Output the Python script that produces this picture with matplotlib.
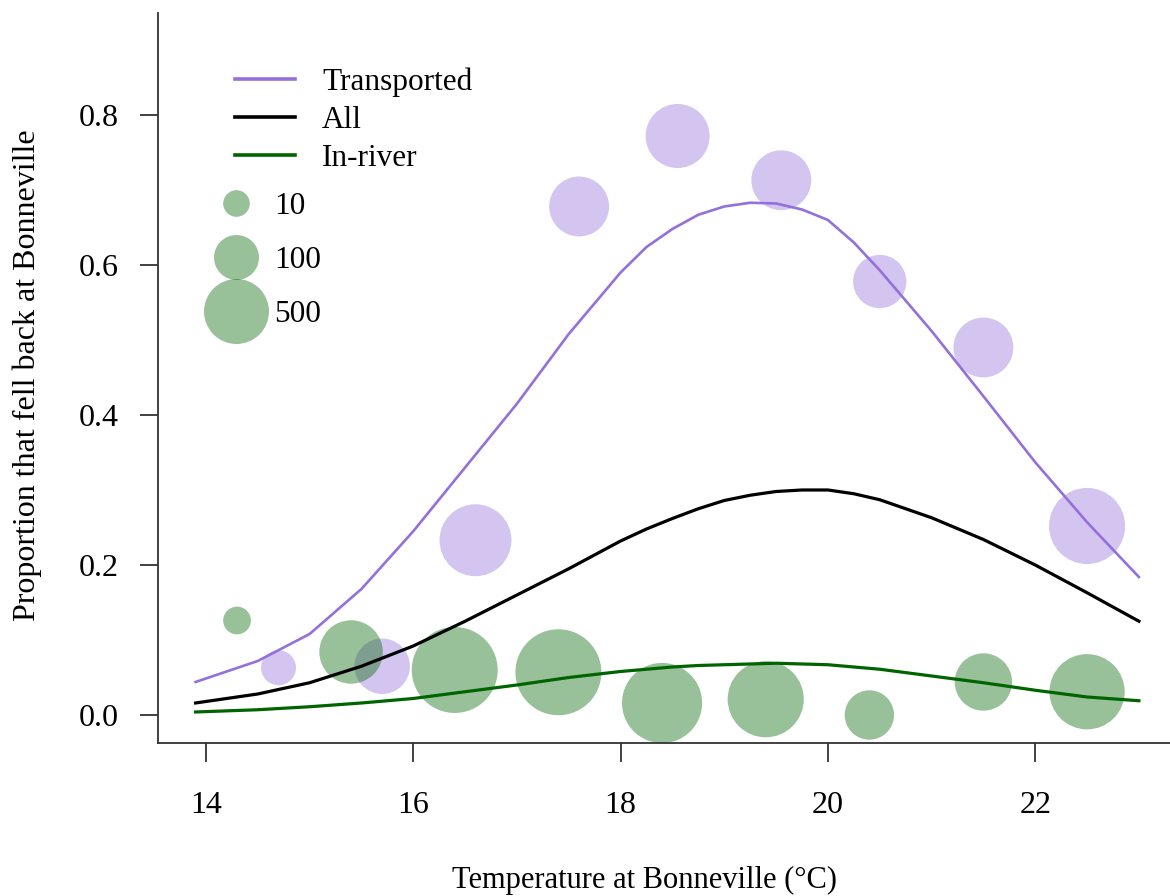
import numpy as np
import matplotlib
matplotlib.use('Agg')
import matplotlib.pyplot as plt
from matplotlib.lines import Line2D
from matplotlib.colors import to_rgba
from matplotlib.ticker import FormatStrFormatter

plt.rcParams['font.family'] = ['Liberation Serif', 'DejaVu Serif']

# fitted curves
curve_temp = [13.9, 14.5, 15.0, 15.5, 16.0, 16.5, 17.0, 17.5, 18.0, 18.25, 18.5, 18.75,
              19.0, 19.25, 19.5, 19.75, 20.0, 20.25, 20.5, 21.0, 21.5, 22.0, 22.5, 23.0]
transported_fit = [0.044, 0.072, 0.108, 0.168, 0.245, 0.330, 0.415, 0.508, 0.590, 0.624, 0.648, 0.667,
                   0.678, 0.683, 0.682, 0.674, 0.660, 0.630, 0.593, 0.512, 0.425, 0.337, 0.257, 0.184]
all_fit = [0.016, 0.028, 0.043, 0.065, 0.092, 0.125, 0.160, 0.195, 0.232, 0.248, 0.262, 0.275,
           0.286, 0.293, 0.298, 0.300, 0.300, 0.295, 0.287, 0.263, 0.234, 0.200, 0.163, 0.125]
inriver_fit = [0.004, 0.007, 0.011, 0.016, 0.022, 0.031, 0.040, 0.050, 0.058, 0.061, 0.064, 0.066,
               0.067, 0.068, 0.069, 0.068, 0.067, 0.064, 0.061, 0.052, 0.043, 0.033, 0.024, 0.019]

# observed proportions per temperature bin, with sample sizes
trans_temp = [14.7, 15.7, 16.6, 17.6, 18.55, 19.55, 20.5, 21.5, 22.5]
trans_prop = [0.063, 0.065, 0.233, 0.678, 0.772, 0.713, 0.578, 0.490, 0.252]
trans_n = [33, 250, 780, 350, 470, 350, 210, 350, 1000]

river_temp = [14.3, 15.4, 16.4, 17.4, 18.4, 19.4, 20.4, 21.5, 22.5]
river_prop = [0.126, 0.084, 0.060, 0.057, 0.016, 0.021, 0.0, 0.044, 0.031]
river_n = [12, 450, 1700, 1700, 1250, 1000, 150, 290, 950]

legend_n = [10, 100, 500]

purple = 'mediumpurple'
green = 'darkgreen'
fs = 23
leg_fs = 22.5


def bubble_size(n):
    r = 7.86 * np.asarray(n, float) ** 0.2284  # radius in px
    return (2 * r * 72 / 100) ** 2


fig = plt.figure(figsize=(11.7, 8.96), dpi=100)
ax = fig.add_axes([0.135, 0.1708, 0.865, 0.8147])

ax.scatter(trans_temp, trans_prop, s=bubble_size(trans_n), color=purple, alpha=0.4, linewidths=0, zorder=2)
ax.scatter(river_temp, river_prop, s=bubble_size(river_n), color=green, alpha=0.4, linewidths=0, zorder=2)

ax.plot(curve_temp, transported_fit, color=purple, lw=1.9, zorder=3)
ax.plot(curve_temp, all_fit, color='black', lw=2.3, zorder=3)
ax.plot(curve_temp, inriver_fit, color=green, lw=2.3, zorder=3)

ax.set_xlim(13.537, 23.3)
ax.set_ylim(-0.0373, 0.936)
ax.set_xticks([14, 16, 18, 20, 22])
ax.set_yticks([0.0, 0.2, 0.4, 0.6, 0.8])
ax.yaxis.set_major_formatter(FormatStrFormatter('%.1f'))
ax.tick_params(axis='x', length=13.7, width=1.3, pad=21, labelsize=fs, color='#333333')
ax.tick_params(axis='y', length=13, width=1.3, pad=15, labelsize=fs, color='#333333')
for side in ['top', 'right']:
    ax.spines[side].set_visible(False)
for side in ['left', 'bottom']:
    ax.spines[side].set_linewidth(1.3)
    ax.spines[side].set_color('#333333')

ax.set_xlabel('Temperature at Bonneville (°C)', fontsize=22, va='center')
ax.xaxis.set_label_coords(0.481, -0.188)
ax.set_ylabel('Proportion that fell back at Bonneville', fontsize=23, va='center')
ax.yaxis.set_label_coords(-0.129, 0.504)

line_handles = [Line2D([], [], color=purple, lw=2.6),
                Line2D([], [], color='black', lw=2.6),
                Line2D([], [], color=green, lw=2.6)]
leg1 = ax.legend(line_handles, ['Transported', 'All', 'In-river'], loc='upper left',
                 bbox_to_anchor=(0.0761, 0.925), frameon=False, fontsize=leg_fs,
                 handlelength=1.92, handletextpad=0.87, labelspacing=0.28,
                 borderpad=0, borderaxespad=0)
ax.add_artist(leg1)

size_handles = [Line2D([], [], ls='none', marker='o', markersize=np.sqrt(s),
                       markerfacecolor=to_rgba(green, 0.4), markeredgewidth=0)
                for s in bubble_size(legend_n)]
ax.legend(size_handles, [str(n) for n in legend_n], loc='upper left',
          bbox_to_anchor=(0.0613, 0.7545), frameon=False, fontsize=leg_fs,
          handlelength=1.0, handletextpad=0.74, labelspacing=0.8,
          borderpad=0, borderaxespad=0)

fig.savefig('out.png', dpi=100)
